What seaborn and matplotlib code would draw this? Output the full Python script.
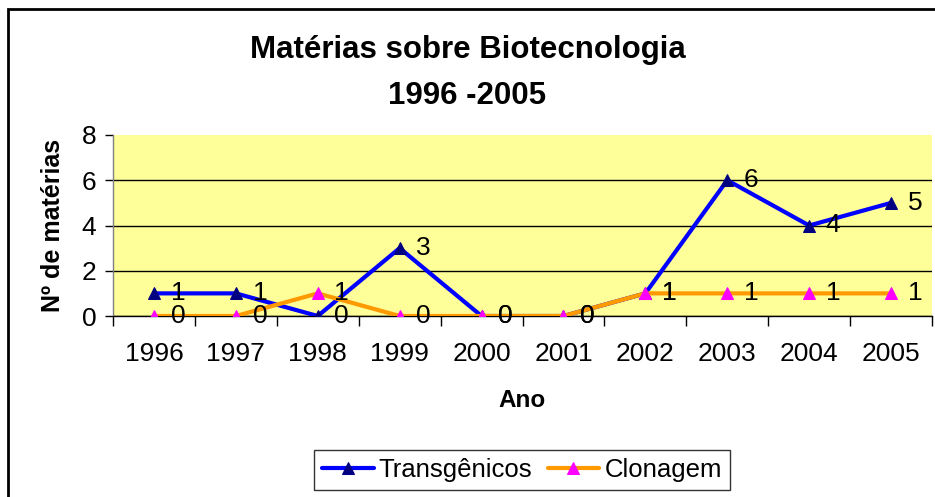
import matplotlib
matplotlib.use("Agg")
import matplotlib.pyplot as plt
import seaborn as sns
import numpy as np
from matplotlib.patches import Rectangle

anos = ['1996', '1997', '1998', '1999', '2000', '2001', '2002', '2003', '2004', '2005']
transgenicos = [1, 1, 0, 3, 0, 0, 1, 6, 4, 5]
clonagem = [0, 0, 1, 0, 0, 0, 1, 1, 1, 1]

sns.set_theme(style='white')
plt.rcParams['font.family'] = ['Liberation Sans', 'DejaVu Sans']
plt.rcParams['text.color'] = 'black'
plt.rcParams['axes.labelcolor'] = 'black'
plt.rcParams['xtick.color'] = 'black'
plt.rcParams['ytick.color'] = 'black'

fs = 19

fig = plt.figure(figsize=(9.35, 4.97), dpi=100)
ax = fig.add_axes([113 / 935, 1 - 316 / 497, 819 / 935, 181 / 497])
ax.set_facecolor('#FFFF99')

# moldura externa do gráfico
fig.patches.append(Rectangle((8 / 935, -0.1), 1.2, (1 - 9 / 497) + 0.1, transform=fig.transFigure,
                             fill=False, edgecolor='black', linewidth=2, zorder=0))

pos = np.arange(len(anos))

sns.lineplot(x=pos, y=transgenicos, ax=ax, color='#0000FF', linewidth=3, marker='^',
             markersize=8.5, markerfacecolor='#000080', markeredgecolor='#000080',
             label='Transgênicos', zorder=3)
sns.lineplot(x=pos, y=clonagem, ax=ax, color='#FF9900', linewidth=3, marker='^',
             markersize=8.5, markerfacecolor='#FF00FF', markeredgecolor='#FF00FF',
             label='Clonagem', zorder=4)

for x, v in zip(pos, transgenicos):
    ax.annotate(str(v), (x, v), xytext=(12, 0), textcoords='offset points',
                va='center', ha='left', fontsize=fs, zorder=5)
for x, v in zip(pos, clonagem):
    ax.annotate(str(v), (x, v), xytext=(12, 0), textcoords='offset points',
                va='center', ha='left', fontsize=fs, zorder=5)

ax.set_xlim(-0.5, len(anos) - 0.5)
ax.set_ylim(0, 8)
ax.set_yticks([0, 2, 4, 6, 8])
ax.set_yticklabels(['0', '2', '4', '6', '8'], fontsize=fs)
ax.yaxis.grid(True, color='black', linewidth=1)
ax.get_ygridlines()[-1].set_visible(False)
ax.set_axisbelow(True)

ax.set_xticks(pos)
ax.set_xticklabels(anos, fontsize=fs)
ax.set_xticks(np.arange(-0.5, len(anos)), minor=True)
ax.tick_params(axis='x', which='major', length=0, pad=19)
ax.tick_params(axis='x', which='minor', length=7, width=1, color='black', direction='out', bottom=True)
ax.tick_params(axis='y', which='major', length=6, width=1, color='black', direction='out', left=True, pad=6)

for s in ['top', 'right']:
    ax.spines[s].set_visible(False)
ax.spines['left'].set_color('#808080')
ax.spines['bottom'].set_color('black')
ax.spines['left'].set_linewidth(1)
ax.spines['bottom'].set_linewidth(1)

ax.set_xlabel('Ano', fontsize=17.5, fontweight='bold', labelpad=16)
ax.set_ylabel('Nº de matérias', fontsize=18, fontweight='bold', labelpad=12)

fig.text(0.5, 1 - 50 / 497, 'Matérias sobre Biotecnologia', ha='center', va='center',
         fontsize=22.5, fontweight='bold')
fig.text(0.5, 1 - 96 / 497, '1996 -2005', ha='center', va='center',
         fontsize=22.5, fontweight='bold')

leg = ax.legend(loc='center', bbox_to_anchor=(522 / 935, 1 - 470 / 497), bbox_transform=fig.transFigure,
                ncol=2, fontsize=18.5, frameon=True, fancybox=False, edgecolor='black',
                handlelength=2.0, handletextpad=0.2, columnspacing=0.6, borderpad=0.3)
leg.get_frame().set_linewidth(1)

fig.savefig('out.png', dpi=100)
